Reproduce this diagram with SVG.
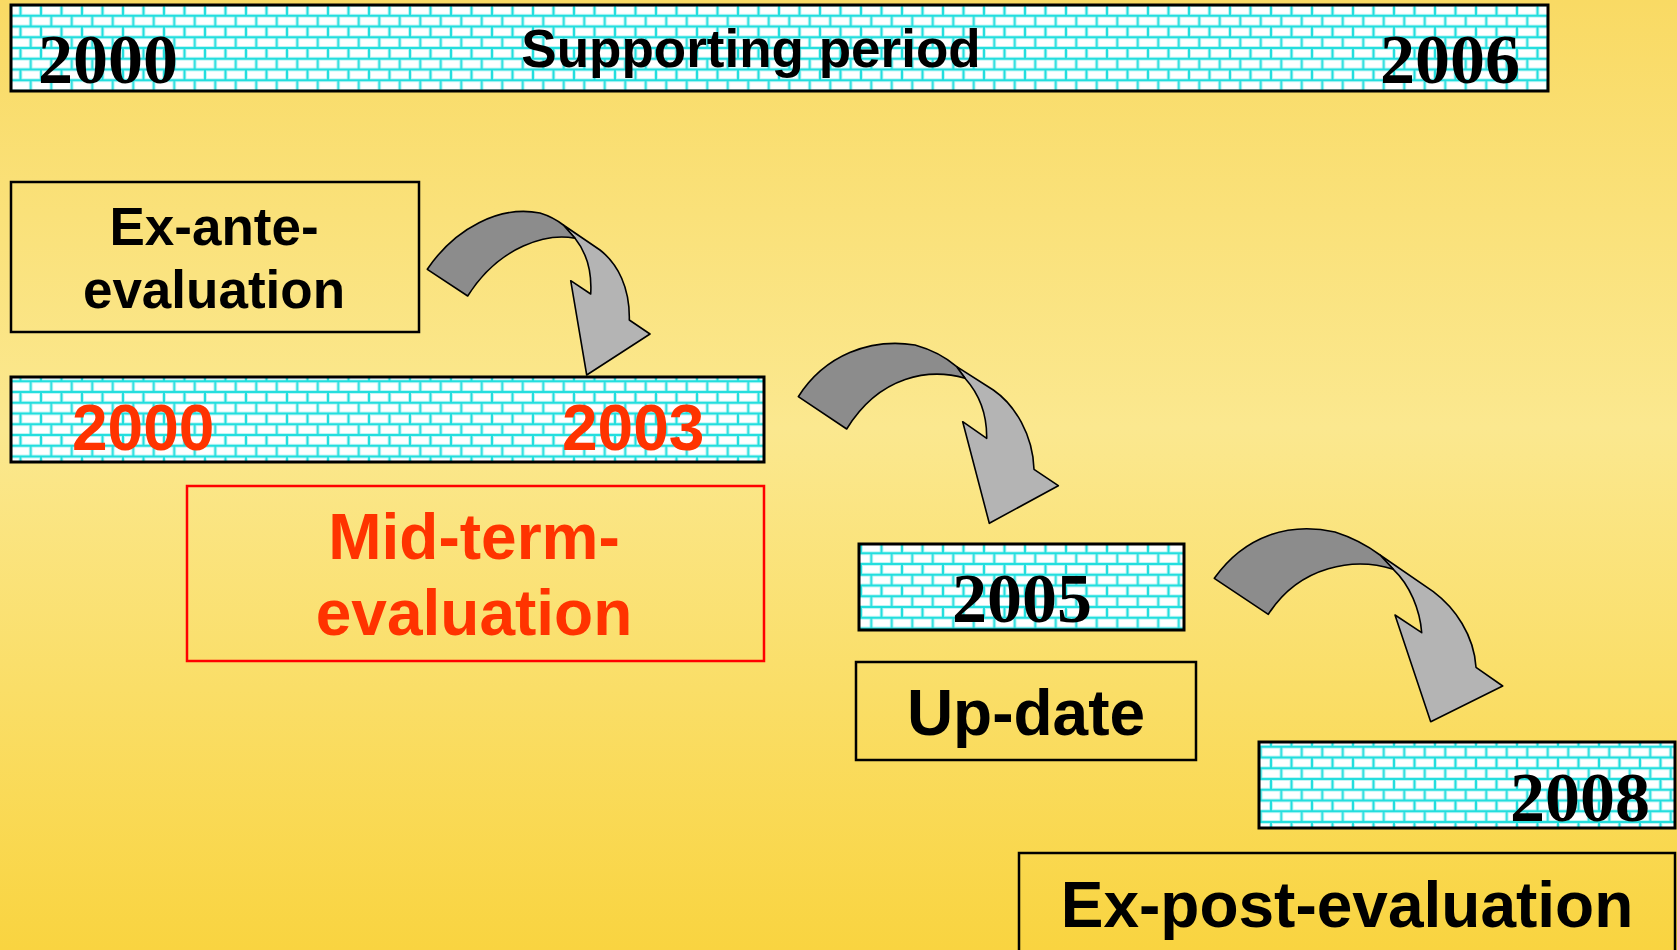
<svg xmlns="http://www.w3.org/2000/svg" width="1677" height="950" viewBox="0 0 1677 950">
  <defs>
    <linearGradient id="bg" x1="0" y1="0" x2="0" y2="1">
      <stop offset="0" stop-color="#F9DA64"/>
      <stop offset="0.45" stop-color="#FBE88F"/>
      <stop offset="1" stop-color="#F9D440"/>
    </linearGradient>
    <!-- cyan brick fill used by the year bars -->
    <pattern id="brick" patternUnits="userSpaceOnUse" x="0" y="5" width="20.5" height="21.5">
      <rect width="20.5" height="21.5" fill="#22DEDE"/>
      <g fill="#FFFFFF" stroke="#C8F7F7" stroke-width="0.8">
        <rect x="1.4" y="1.4" width="17.7" height="7.9"/>
        <rect x="-8.85" y="12.15" width="17.7" height="7.9"/>
        <rect x="11.65" y="12.15" width="17.7" height="7.9"/>
      </g>
    </pattern>
    <style>
      .bar { fill: url(#brick); stroke: #000; stroke-width: 3; }
      .box { fill: none; stroke: #000; stroke-width: 2.5; }
      .redbox { fill: none; stroke: #FF0000; stroke-width: 2.5; }
      .year { font-family: "Liberation Serif", "Times New Roman", serif; font-weight: bold; font-size: 70px; fill: #000; }
      .lbl { font-family: "Liberation Sans", Arial, sans-serif; font-weight: bold; fill: #000; }
      .red { fill: #FF3300; }
      .dark { fill: #8C8C8C; stroke: #000; stroke-width: 1.6; stroke-linejoin: round; }
      .light { fill: #B4B4B4; stroke: #000; stroke-width: 1.6; stroke-linejoin: round; }
    </style>
  </defs>

  <rect width="1677" height="950" fill="url(#bg)"/>

  <!-- overall period bar -->
  <g id="supporting-period">
    <rect class="bar" x="11" y="5" width="1537" height="86"/>
    <text class="year" x="38" y="83">2000</text>
    <text class="lbl" x="751" y="67" font-size="53" text-anchor="middle">Supporting period</text>
    <text class="year" x="1520" y="83" text-anchor="end">2006</text>
  </g>

  <g id="ex-ante">
    <rect class="box" x="11" y="182" width="408" height="150"/>
    <text class="lbl" font-size="53" text-anchor="middle"><tspan x="214" y="245">Ex-ante-</tspan><tspan x="214" y="308">evaluation</tspan></text>
  </g>

  <g id="bar-2000-2003">
    <rect class="bar" x="11" y="377" width="753" height="85"/>
    <text class="lbl red" x="72" y="450" font-size="64">2000</text>
    <text class="lbl red" x="562" y="450" font-size="64">2003</text>
  </g>

  <g id="mid-term">
    <rect class="redbox" x="187" y="486" width="577" height="175"/>
    <text class="lbl red" font-size="64" text-anchor="middle"><tspan x="474" y="559">Mid-term-</tspan><tspan x="474" y="635">evaluation</tspan></text>
  </g>

  <g id="bar-2005">
    <rect class="bar" x="859" y="544" width="325" height="86"/>
    <text class="year" x="1022" y="622" text-anchor="middle">2005</text>
  </g>

  <g id="update">
    <rect class="box" x="856" y="662" width="340" height="98"/>
    <text class="lbl" x="1026" y="735" font-size="64" text-anchor="middle">Up-date</text>
  </g>

  <g id="bar-2008">
    <rect class="bar" x="1259" y="742" width="416" height="86"/>
    <text class="year" x="1650" y="821" text-anchor="end">2008</text>
  </g>

  <g id="ex-post">
    <rect class="box" x="1019" y="853" width="656" height="110"/>
    <text class="lbl" x="1347" y="927" font-size="64" text-anchor="middle">Ex-post-evaluation</text>
  </g>

  <!-- curved block arrows between the stages -->
  <g id="connectors">
    <g id="arrow-1">
      <path class="light" d="M563.3,225 L600,250 C618,264 630,288 629.3,320 L650,334 L586.7,375 L570.7,280.7 L590.7,294 C592,272 586,252 575,238.3 Z"/>
      <path class="dark" d="M427.3,269.3 C455,228 500,205 540,213 Q553,217 563.3,225 L575,238.3 C548,233 500,245 467.7,296 Z"/>
    </g>
    <g id="arrow-2">
      <path class="light" d="M956.7,366.7 L993.3,390 C1015,405 1033,435 1034,469.3 L1058.3,485.7 L989.3,523.3 L962.7,421.7 L986.7,438.3 C987,415 980,395 965,378.3 Z"/>
      <path class="dark" d="M798.3,396.7 C825,355 870,338 915,345 Q940,352 956.7,366.7 L965,378.3 C930,368 880,375 846.7,429 Z"/>
    </g>
    <g id="arrow-3">
      <path class="light" d="M1380,555 L1433.3,591.7 C1455,608 1474,635 1476,667.3 L1502.7,686 L1430.7,721.7 L1395,615 L1421.7,632.7 C1420,610 1410,585 1393.3,569.3 Z"/>
      <path class="dark" d="M1214.3,578.3 C1245,535 1290,522 1335,532 Q1360,540 1380,555 L1393.3,569.3 C1355,557 1300,565 1268.3,614.3 Z"/>
    </g>
  </g>
</svg>
